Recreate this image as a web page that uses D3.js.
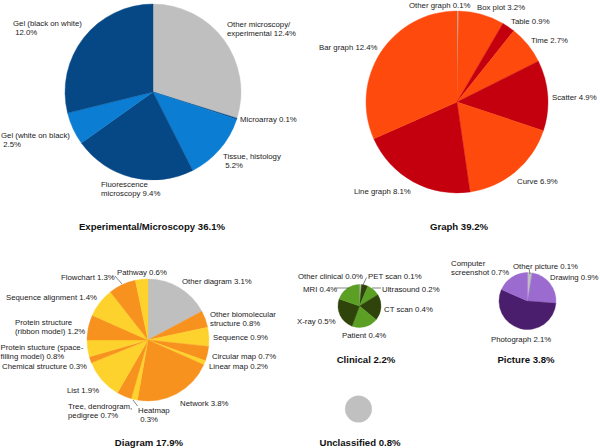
<!DOCTYPE html>
<html><head><meta charset="utf-8">
<script src="https://cdn.jsdelivr.net/npm/d3@7"></script>
<style>
html,body{margin:0;padding:0;background:#fff;}
svg text{font-family:"Liberation Sans",Arial,sans-serif;white-space:pre;}
</style></head>
<body><svg id="chart" width="600" height="448"></svg>
<script>
// ---------- DATA ----------
const groupNames  = ["Experimental/Microscopy", "Graph", "Diagram", "Clinical", "Picture", "Unclassified"];
const groupTotals = [36.1, 39.2, 17.9, 2.2, 3.8, 0.8];

// "\n" in a name marks a line break in the label (trailing "\n" => % on next line)
const expCats   = ["Other microscopy/\nexperimental", "Microarray", "Tissue, histology\n", "Fluorescence\nmicroscopy", "Gel (white on black)\n", "Gel (black on white)\n"];
const expValues = [12.4, 0.1, 5.2, 9.4, 2.5, 12.0];
const expKinds  = ["other", "a", "b", "a", "b", "a"];

const graphCats   = ["Other graph", "Box plot", "Table", "Time", "Scatter", "Curve", "Line graph", "Bar graph"];
const graphValues = [0.1, 3.2, 0.9, 2.7, 4.9, 6.9, 8.1, 12.4];
const graphKinds  = ["other", "b", "a", "b", "a", "b", "a", "b"];

const diagCats   = ["Other diagram", "Other biomolecular\nstructure", "Sequence", "Circular map", "Linear map", "Network", "Heatmap\n", "Tree, dendrogram,\npedigree", "List", "Chemical structure", "Protein stucture (space-\nfilling model)", "Protein structure\n(ribbon model)", "Sequence alignment", "Flowchart", "Pathway"];
const diagValues = [3.1, 0.8, 0.9, 0.7, 0.2, 3.8, 0.3, 0.7, 1.9, 0.3, 0.8, 1.2, 1.4, 1.3, 0.6];
const diagKinds  = ["other", "a", "b", "a", "b", "a", "b", "a", "b", "a", "b", "a", "b", "a", "b"];

const clinCats   = ["Other clinical", "PET scan", "Ultrasound", "CT scan", "Patient", "X-ray", "MRI"];
const clinValues = [0.03, 0.1, 0.2, 0.4, 0.4, 0.5, 0.4];
const clinKinds  = ["other", "a", "b", "a", "b", "a", "b"];

const picCats   = ["Other picture", "Drawing", "Photograph", "Computer\nscreenshot"];
const picValues = [0.1, 0.9, 2.1, 0.7];
const picKinds  = ["other", "b", "a", "b"];

const uncCats   = ["Unclassified"];
const uncValues = [0.8];
const uncKinds  = ["other"];

// ---------- STYLE / LAYOUT ----------
const palettes = [
  {other:"#bfbfbf", a:"#064886", b:"#0b7dd3"},
  {other:"#bfbfbf", a:"#c4000f", b:"#fe4a0c"},
  {other:"#bfbfbf", a:"#f7921e", b:"#fed22c"},
  {other:"#bfbfbf", a:"#2e440b", b:"#5b9f25"},
  {other:"#bfbfbf", a:"#4a1e6c", b:"#9b6bd0"},
  {other:"#c0c0c0"}
];
const pieLayout = [
  {cx:153,   cy:92,  r:88},
  {cx:457,   cy:102, r:91},
  {cx:148,   cy:340, r:61},
  {cx:359.5, cy:306, r:21.5},
  {cx:527.5, cy:301, r:28.5},
  {cx:358.5, cy:409, r:13.3}
];
const titlePos = [[152,229.5],[459,229.5],[149,446],[366,363],[526,363],[360,446]];
const labelPos = [
  [[227,27],[240,122],[223,159],[101,187],[1,137.5],[13,26]],
  [[409,7.5],[477,10],[511,24],[531,42.5],[552,100],[517,184],[354,193.5],[319,49.5]],
  [[182,284],[210,316.5],[213,340],[212,358.5],[209,368.5],[180,406],[138,412.5],[68,409],[67,392.5],[2,368.5],[0.5,349.5],[15,324.5],[6,299.5],[61,280],[117,275]],
  [[298,279],[368,279],[382,291.5],[384,311.5],[342,337.5],[297,324],[303,291.5]],
  [[513,268.5],[550,280],[491,341.5],[451,266]],
  []
];
const leaders = [
  [115,276,122,284], [133,400,137.5,406],
  [336,288,349,288], [372,288,381,288], [363,285,366.5,277.5],
  [529,268.5,530,274]
];

const groups = [
  {cats:expCats,   vals:expValues,   kinds:expKinds},
  {cats:graphCats, vals:graphValues, kinds:graphKinds},
  {cats:diagCats,  vals:diagValues,  kinds:diagKinds},
  {cats:clinCats,  vals:clinValues,  kinds:clinKinds},
  {cats:picCats,   vals:picValues,   kinds:picKinds},
  {cats:uncCats,   vals:uncValues,   kinds:uncKinds}
];

const svg = d3.select("#chart");
const pie = d3.pie().sort(null).value(d => d.v);
const LABEL_FS = 7.8, LINE_H = 9;

groups.forEach((grp, gi) => {
  const L = pieLayout[gi];
  const data = grp.cats.map((c, i) => ({c, v: grp.vals[i], k: grp.kinds[i]}));
  const arc = d3.arc().innerRadius(0).outerRadius(L.r);
  const g = svg.append("g").attr("transform", `translate(${L.cx},${L.cy})`);
  g.selectAll("path").data(pie(data)).join("path")
    .attr("d", arc)
    .attr("fill", d => palettes[gi][d.data.k])
    .attr("stroke", d => palettes[gi][d.data.k])
    .attr("stroke-width", 0.4);

  // labels (skip for single-slice unclassified)
  if (gi < 5) {
    data.forEach((d, i) => {
      const pct = d.v.toFixed(1) + "%";
      let lines;
      if (d.c.endsWith("\n")) lines = [d.c.slice(0, -1), " " + pct];
      else { lines = d.c.split("\n"); lines[lines.length - 1] += " " + pct; }
      const [x, y] = labelPos[gi][i];
      const t = svg.append("text").attr("x", x).attr("y", y)
        .attr("font-size", LABEL_FS).attr("fill", "#1a1a1a");
      lines.forEach((ln, li) => {
        t.append("tspan").attr("x", x).attr("y", y + li * LINE_H).text(ln);
      });
    });
  }

  svg.append("text")
    .attr("x", titlePos[gi][0]).attr("y", titlePos[gi][1])
    .attr("text-anchor", "middle")
    .attr("font-size", 9.6).attr("font-weight", "bold").attr("fill", "#111")
    .text(`${groupNames[gi]} ${groupTotals[gi].toFixed(1)}%`);
});

svg.selectAll("line.leader").data(leaders).join("line")
  .attr("class", "leader")
  .attr("x1", d => d[0]).attr("y1", d => d[1])
  .attr("x2", d => d[2]).attr("y2", d => d[3])
  .attr("stroke", "#333").attr("stroke-width", 0.6);
</script></body></html>
